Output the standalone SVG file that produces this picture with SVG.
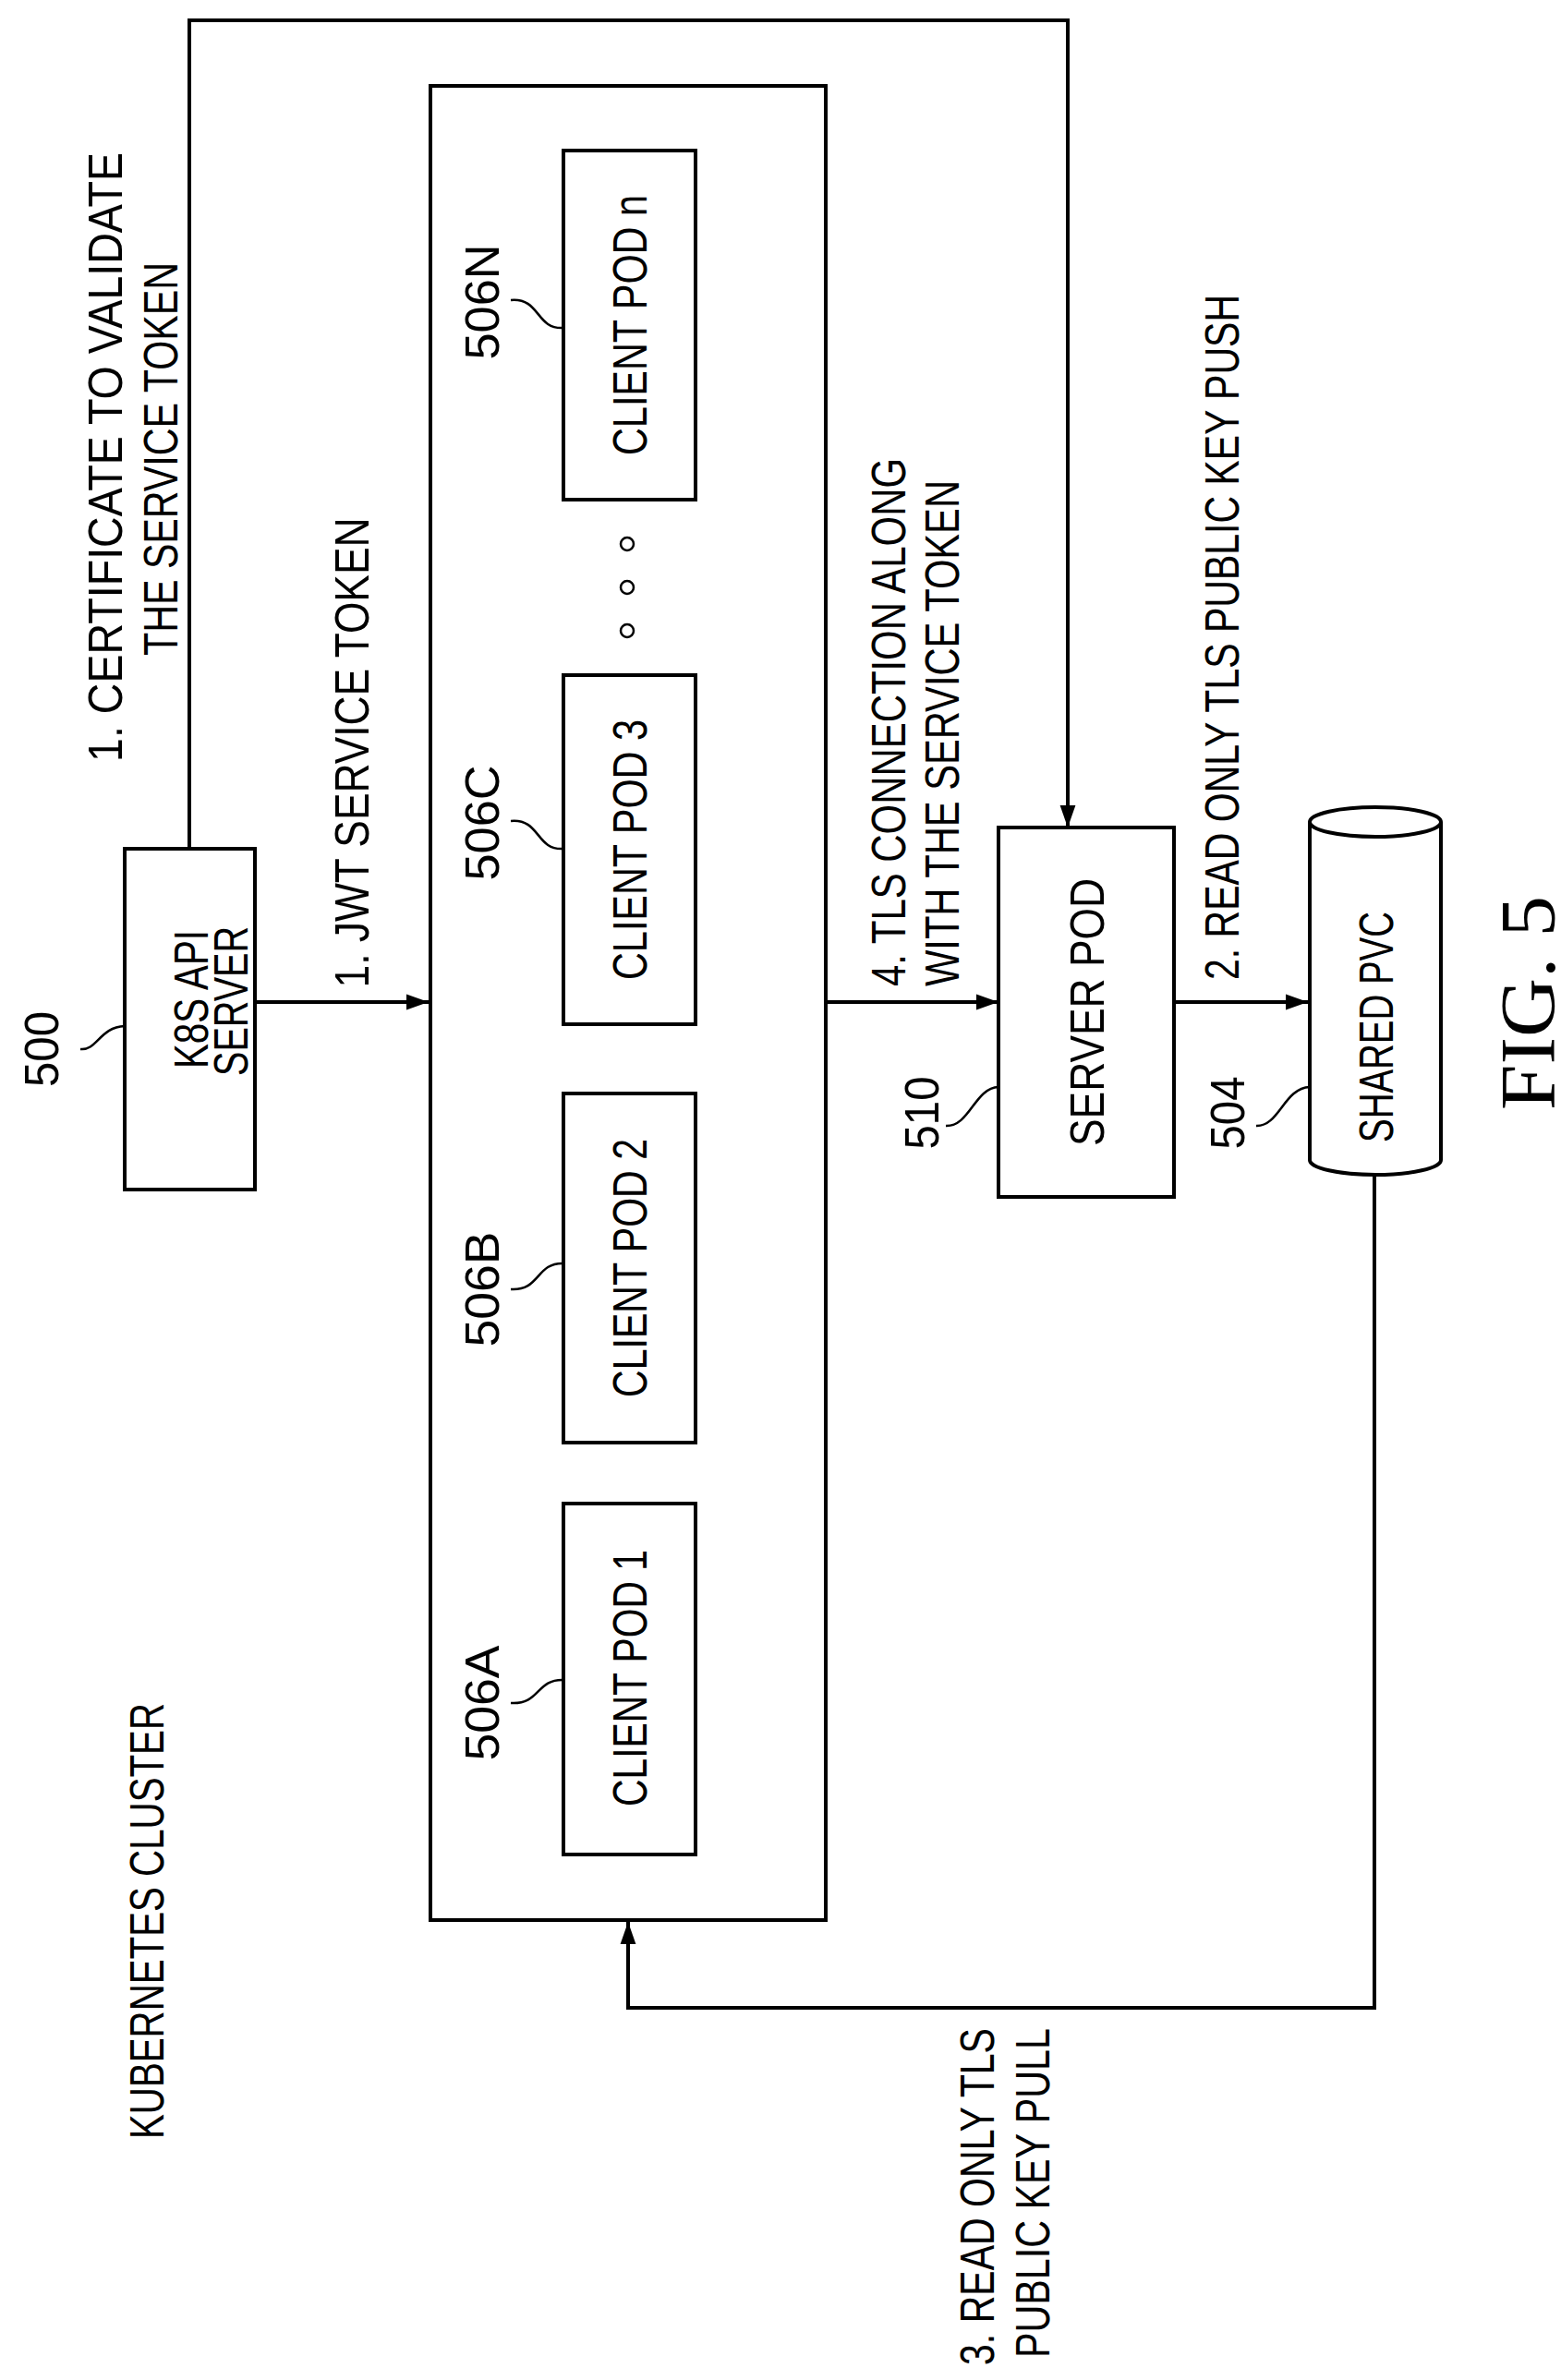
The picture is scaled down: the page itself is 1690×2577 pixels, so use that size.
<svg xmlns="http://www.w3.org/2000/svg" width="1690" height="2577" viewBox="0 0 1690 2577">
<defs>
<marker id="ah" viewBox="0 0 10 10" refX="10" refY="5" markerWidth="24" markerHeight="24" markerUnits="userSpaceOnUse" orient="auto"><path d="M0,1.5 L10,5 L0,8.5 Z" fill="#000"/></marker>
<style>
text{font-family:"Liberation Sans",Arial,sans-serif;font-size:52px;fill:#000}
.b{fill:#fff;stroke:#000;stroke-width:4}
.l{fill:none;stroke:#000;stroke-width:4}
.ld{fill:none;stroke:#000;stroke-width:2.5}
.c{text-anchor:middle}
</style>
</defs>
<rect width="1690" height="2577" fill="#fff"/>
<g id="connectors">
<path class="l" d="M205,919 V22 H1156 V896" marker-end="url(#ah)"/>
<path class="l" d="M276,1085 H464" marker-end="url(#ah)"/>
<path class="l" d="M894,1085 H1081" marker-end="url(#ah)"/>
<path class="l" d="M1271,1085 H1416" marker-end="url(#ah)"/>
<path class="l" d="M1488,1272 V2174 H680 V2081" marker-end="url(#ah)"/>
</g>
<g id="cluster">
<rect class="b" x="466" y="93" width="428" height="1986"/>
<text transform="translate(177,2080) rotate(-90)" class="c" textLength="472" lengthAdjust="spacingAndGlyphs">KUBERNETES CLUSTER</text>
</g>
<g id="k8s">
<rect class="b" x="135" y="919" width="141" height="369"/>
<text transform="translate(225,1082) rotate(-90)" class="c" textLength="150" lengthAdjust="spacingAndGlyphs">K8S API</text>
<text transform="translate(268,1084) rotate(-90)" class="c" textLength="162" lengthAdjust="spacingAndGlyphs">SERVER</text>
<text transform="translate(63,1136) rotate(-90)" class="c" textLength="82" lengthAdjust="spacingAndGlyphs">500</text>
<path class="ld" d="M87,1136 C105,1138 108,1112 135,1111"/>
</g>
<g id="labels">
<text transform="translate(132,495) rotate(-90)" class="c" textLength="660" lengthAdjust="spacingAndGlyphs">1. CERTIFICATE TO VALIDATE</text>
<text transform="translate(192,497) rotate(-90)" class="c" textLength="426" lengthAdjust="spacingAndGlyphs">THE SERVICE TOKEN</text>
<text transform="translate(399,815) rotate(-90)" class="c" textLength="509" lengthAdjust="spacingAndGlyphs">1. JWT SERVICE TOKEN</text>
<text transform="translate(980,1068) rotate(-90)" textLength="572" lengthAdjust="spacingAndGlyphs">4. TLS CONNECTION ALONG</text>
<text transform="translate(1038,1068) rotate(-90)" textLength="548" lengthAdjust="spacingAndGlyphs">WITH THE SERVICE TOKEN</text>
<text transform="translate(1341,1061) rotate(-90)" textLength="742" lengthAdjust="spacingAndGlyphs">2. READ ONLY TLS PUBLIC KEY PUSH</text>
<text transform="translate(1076,2561) rotate(-90)" textLength="365" lengthAdjust="spacingAndGlyphs">3. READ ONLY TLS</text>
<text transform="translate(1136,2553) rotate(-90)" textLength="357" lengthAdjust="spacingAndGlyphs">PUBLIC KEY PULL</text>
<text transform="translate(1683,1086) rotate(-90)" class="c" textLength="232" lengthAdjust="spacingAndGlyphs" style="font-family:'Liberation Serif','Times New Roman',serif;font-size:84px">FIG. 5</text>
</g>
<g id="podn">
<rect class="b" x="610" y="163" width="143" height="378"/>
<text transform="translate(700,352) rotate(-90)" class="c" textLength="282" lengthAdjust="spacingAndGlyphs">CLIENT POD n</text>
<text transform="translate(540,327) rotate(-90)" class="c" textLength="125" lengthAdjust="spacingAndGlyphs">506N</text>
<path class="ld" d="M553,325 C585,322 580,357 610,355"/>
</g>
<g id="dots">
<circle class="ld" cx="679" cy="589" r="7"/>
<circle class="ld" cx="679" cy="636" r="7"/>
<circle class="ld" cx="679" cy="683" r="7"/>
</g>
<g id="pod3">
<rect class="b" x="610" y="731" width="143" height="378"/>
<text transform="translate(700,920) rotate(-90)" class="c" textLength="282" lengthAdjust="spacingAndGlyphs">CLIENT POD 3</text>
<text transform="translate(540,891) rotate(-90)" class="c" textLength="125" lengthAdjust="spacingAndGlyphs">506C</text>
<path class="ld" d="M553,889 C585,886 580,921 610,919"/>
</g>
<g id="pod2">
<rect class="b" x="610" y="1184" width="143" height="378"/>
<text transform="translate(700,1373) rotate(-90)" class="c" textLength="280" lengthAdjust="spacingAndGlyphs">CLIENT POD 2</text>
<text transform="translate(540,1396) rotate(-90)" class="c" textLength="125" lengthAdjust="spacingAndGlyphs">506B</text>
<path class="ld" d="M553,1396 C585,1398 580,1367 610,1368"/>
</g>
<g id="pod1">
<rect class="b" x="610" y="1628" width="143" height="380"/>
<text transform="translate(700,1817) rotate(-90)" class="c" textLength="278" lengthAdjust="spacingAndGlyphs">CLIENT POD 1</text>
<text transform="translate(540,1844) rotate(-90)" class="c" textLength="125" lengthAdjust="spacingAndGlyphs">506A</text>
<path class="ld" d="M553,1844 C585,1846 580,1818 610,1819"/>
</g>
<g id="server">
<rect class="b" x="1081" y="896" width="190" height="400"/>
<text transform="translate(1195,1096) rotate(-90)" class="c" textLength="290" lengthAdjust="spacingAndGlyphs">SERVER POD</text>
<text transform="translate(1016,1205) rotate(-90)" class="c" textLength="79" lengthAdjust="spacingAndGlyphs">510</text>
<path class="ld" d="M1024,1219 C1050,1220 1055,1178 1081,1177"/>
</g>
<g id="pvc">
<path class="b" d="M1418,890 V1256 A71,16 0 0 0 1560,1256 V890 A71,16 0 0 0 1418,890 Z"/>
<path class="l" d="M1418,890 A71,16 0 0 0 1560,890"/>
<text transform="translate(1508,1112) rotate(-90)" class="c" textLength="250" lengthAdjust="spacingAndGlyphs">SHARED PVC</text>
<text transform="translate(1347,1205) rotate(-90)" class="c" textLength="79" lengthAdjust="spacingAndGlyphs">504</text>
<path class="ld" d="M1360,1219 C1385,1220 1390,1178 1418,1177"/>
</g>
</svg>
